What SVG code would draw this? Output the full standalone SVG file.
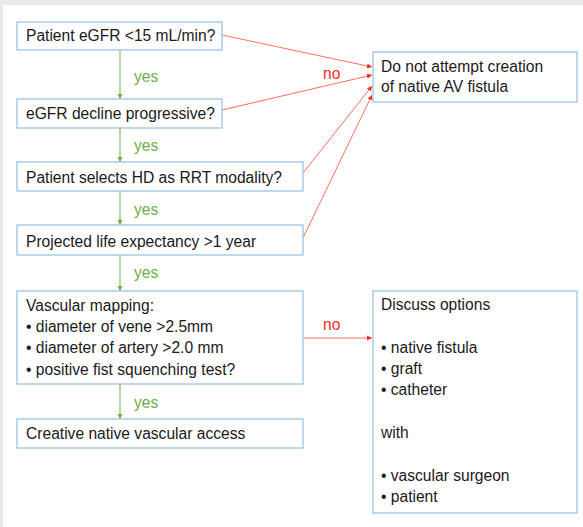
<svg xmlns="http://www.w3.org/2000/svg" width="583" height="527" viewBox="0 0 583 527">
<style>
.box{fill:#fff;stroke:#9dc3e6;stroke-width:1.3}
.t{font-family:"Liberation Sans",Arial,sans-serif;font-size:15.6px;fill:#1a1a1a}
.yes{font-family:"Liberation Sans",Arial,sans-serif;font-size:15.6px;fill:#70ad47}
.no{font-family:"Liberation Sans",Arial,sans-serif;font-size:15.6px;fill:#ff2a1a}
.g{stroke:#70ad47;stroke-width:1;fill:none}
.r{stroke:#f4735f;stroke-width:1;fill:none}
</style>
<defs>
<marker id="ag" markerWidth="6" markerHeight="6" refX="5" refY="3" orient="auto" markerUnits="userSpaceOnUse"><path d="M0,0.5 L5,3 L0,5.5 z" fill="#70ad47"/></marker>
<marker id="ar" markerWidth="6" markerHeight="6" refX="5" refY="3" orient="auto" markerUnits="userSpaceOnUse"><path d="M0,0.5 L5,3 L0,5.5 z" fill="#ff2a1a"/></marker>
</defs>
<rect x="0" y="0" width="583" height="527" fill="#e8e9eb"/>
<rect x="3" y="5" width="580" height="522" fill="#fff"/>
<g id="connectors">
<line class="g" x1="120" y1="50" x2="120" y2="99" marker-end="url(#ag)"/>
<line class="g" x1="120" y1="128" x2="120" y2="162" marker-end="url(#ag)"/>
<line class="g" x1="120" y1="191" x2="120" y2="225" marker-end="url(#ag)"/>
<line class="g" x1="120" y1="255" x2="120" y2="291" marker-end="url(#ag)"/>
<line class="g" x1="120" y1="384" x2="120" y2="419" marker-end="url(#ag)"/>
<text class="yes" x="134" y="82">yes</text>
<text class="yes" x="134" y="151">yes</text>
<text class="yes" x="134" y="215">yes</text>
<text class="yes" x="134" y="278">yes</text>
<text class="yes" x="134" y="408">yes</text>
<line class="r" x1="222" y1="35" x2="372" y2="67" marker-end="url(#ar)"/>
<line class="r" x1="222" y1="110" x2="372" y2="75" marker-end="url(#ar)"/>
<line class="r" x1="303" y1="173" x2="372" y2="86" marker-end="url(#ar)"/>
<line class="r" x1="303" y1="238" x2="372" y2="95" marker-end="url(#ar)"/>
<text class="no" x="323" y="79">no</text>
<line class="r" x1="303" y1="338" x2="372" y2="338" marker-end="url(#ar)"/>
<text class="no" x="323" y="330">no</text>
</g>
<g id="n1"><rect class="box" x="17" y="22" width="205" height="28"/><text class="t" x="26" y="41">Patient eGFR &lt;15 mL/min?</text></g>
<g id="n2"><rect class="box" x="17" y="99" width="205" height="29"/><text class="t" x="26" y="119">eGFR decline progressive?</text></g>
<g id="n3"><rect class="box" x="17" y="162" width="286" height="29"/><text class="t" x="26" y="183">Patient selects HD as RRT modality?</text></g>
<g id="n4"><rect class="box" x="17" y="225" width="286" height="30"/><text class="t" x="26" y="247">Projected life expectancy &gt;1 year</text></g>
<g id="n5"><rect class="box" x="17" y="291" width="286" height="93"/>
<text class="t" x="26" y="311">Vascular mapping:</text>
<text class="t" x="26" y="332">• diameter of vene &gt;2.5mm</text>
<text class="t" x="26" y="353">• diameter of artery &gt;2.0 mm</text>
<text class="t" x="26" y="375">• positive fist squenching test?</text></g>
<g id="n6"><rect class="box" x="17" y="419" width="286" height="29"/><text class="t" x="26" y="439">Creative native vascular access</text></g>
<g id="n7"><rect class="box" x="373" y="52" width="204" height="50"/>
<text class="t" x="381" y="72">Do not attempt creation</text>
<text class="t" x="381" y="92">of native AV fistula</text></g>
<g id="n8"><rect class="box" x="373" y="291" width="204" height="222"/>
<text class="t" x="381" y="310">Discuss options</text>
<text class="t" x="381" y="353">• native fistula</text>
<text class="t" x="381" y="374">• graft</text>
<text class="t" x="381" y="395">• catheter</text>
<text class="t" x="381" y="438">with</text>
<text class="t" x="381" y="481">• vascular surgeon</text>
<text class="t" x="381" y="502">• patient</text></g>
</svg>
